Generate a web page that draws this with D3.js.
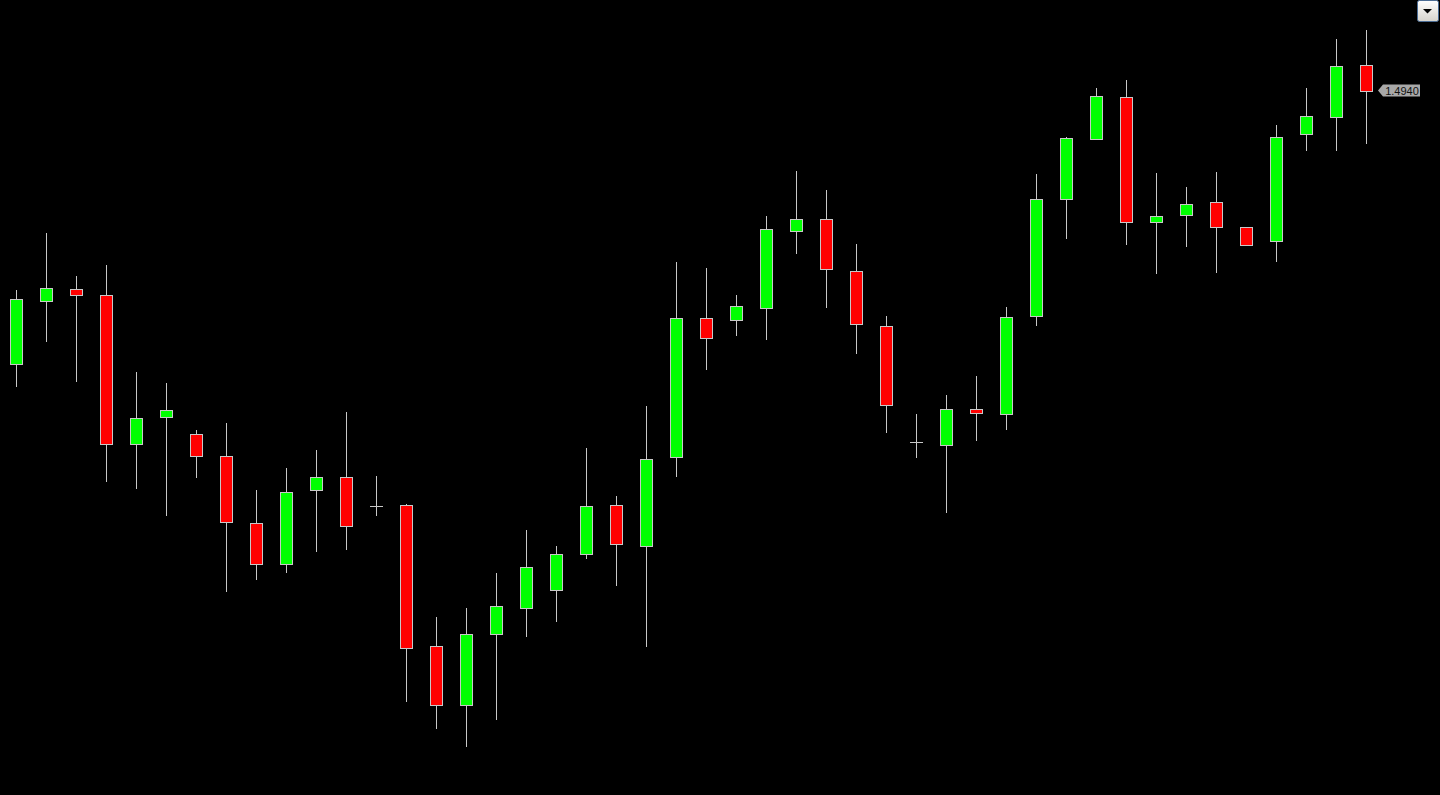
<!DOCTYPE html>
<html>
<head>
<meta charset="utf-8">
<script src="https://cdn.jsdelivr.net/npm/d3@7"></script>
<style>
  html, body { margin: 0; padding: 0; background: #000; overflow: hidden; }
  svg { display: block; }
</style>
</head>
<body>
<div id="chart"></div>
<script>
// daily bars, oldest first
var opens  = [1.4667, 1.4730, 1.4742, 1.4736, 1.4587, 1.4614, 1.4597, 1.4575, 1.4508, 1.4467,
              1.4541, 1.4554, 1.4525, 1.4526, 1.4385, 1.4326, 1.4397, 1.4423, 1.4441, 1.4477,
              1.4526, 1.4485, 1.4574, 1.4713, 1.4711, 1.4723, 1.4800, 1.4812, 1.4760, 1.4705,
              1.4589, 1.4586, 1.4622, 1.4617, 1.4715, 1.4832, 1.4892, 1.4934, 1.4809, 1.4816,
              1.4829, 1.4804, 1.4790, 1.4897, 1.4914, 1.4966];
var highs  = [1.4741, 1.4798, 1.4755, 1.4766, 1.4659, 1.4648, 1.4601, 1.4608, 1.4541, 1.4563,
              1.4581, 1.4619, 1.4555, 1.4527, 1.4414, 1.4423, 1.4458, 1.4501, 1.4485, 1.4583,
              1.4535, 1.4625, 1.4769, 1.4763, 1.4736, 1.4815, 1.4860, 1.4841, 1.4787, 1.4715,
              1.4617, 1.4636, 1.4655, 1.4724, 1.4857, 1.4894, 1.4943, 1.4951, 1.4858, 1.4844,
              1.4859, 1.4804, 1.4906, 1.4943, 1.4992, 1.5001];
var lows   = [1.4644, 1.4689, 1.4649, 1.4549, 1.4542, 1.4515, 1.4553, 1.4439, 1.4451, 1.4458,
              1.4479, 1.4481, 1.4515, 1.4329, 1.4302, 1.4284, 1.4311, 1.4394, 1.4409, 1.4472,
              1.4445, 1.4384, 1.4554, 1.4661, 1.4695, 1.4691, 1.4777, 1.4723, 1.4677, 1.4598,
              1.4573, 1.4518, 1.4590, 1.4601, 1.4705, 1.4792, 1.4892, 1.4786, 1.4757, 1.4784,
              1.4758, 1.4786, 1.4769, 1.4880, 1.4880, 1.4887];
var closes = [1.4732, 1.4743, 1.4736, 1.4587, 1.4613, 1.4621, 1.4575, 1.4509, 1.4467, 1.4539,
              1.4554, 1.4505, 1.4525, 1.4383, 1.4326, 1.4397, 1.4425, 1.4464, 1.4477, 1.4525,
              1.4487, 1.4572, 1.4713, 1.4693, 1.4725, 1.4802, 1.4812, 1.4762, 1.4707, 1.4626,
              1.4589, 1.4622, 1.4618, 1.4714, 1.4832, 1.4893, 1.4935, 1.4809, 1.4815, 1.4827,
              1.4804, 1.4786, 1.4894, 1.4915, 1.4965, 1.4940];

var width = 1440, height = 795;
var bodyW = 12;

var bars = opens.map(function(o, i) {
  return { i: i, open: o, high: highs[i], low: lows[i], close: closes[i] };
});

var x = d3.scaleLinear()
  .domain([0, bars.length - 1])
  .range([16, 1366]);

var y = d3.scaleLinear()
  .domain([1.5031, 1.4236])
  .range([0, height]);

var svg = d3.select("#chart")
  .append("svg")
  .attr("width", width)
  .attr("height", height);

svg.append("rect")
  .attr("width", width)
  .attr("height", height)
  .attr("fill", "#000");

var candle = svg.selectAll("g.candle")
  .data(bars)
  .enter().append("g")
  .attr("class", "candle");

// wicks
candle.append("line")
  .attr("x1", function(d) { return Math.round(x(d.i)) + 0.5; })
  .attr("x2", function(d) { return Math.round(x(d.i)) + 0.5; })
  .attr("y1", function(d) { return Math.round(y(d.high)); })
  .attr("y2", function(d) { return Math.round(y(d.low)); })
  .attr("stroke", "#c8c8c8")
  .attr("stroke-width", 1);

// bodies
candle.filter(function(d) { return d.open != d.close; })
  .append("rect")
  .attr("x", function(d) { return Math.round(x(d.i)) - bodyW / 2 + 0.5; })
  .attr("y", function(d) { return Math.round(y(Math.max(d.open, d.close))) + 0.5; })
  .attr("width", bodyW)
  .attr("height", function(d) {
    return Math.max(1, Math.round(y(Math.min(d.open, d.close))) - Math.round(y(Math.max(d.open, d.close))));
  })
  .attr("fill", function(d) { return d.close > d.open ? "#00ff00" : "#ff0000"; })
  .attr("stroke", "#c8c8c8")
  .attr("stroke-width", 1);

// dojis
candle.filter(function(d) { return d.open == d.close; })
  .append("line")
  .attr("x1", function(d) { return Math.round(x(d.i)) - bodyW / 2; })
  .attr("x2", function(d) { return Math.round(x(d.i)) + bodyW / 2 + 1; })
  .attr("y1", function(d) { return Math.round(y(d.close)) + 0.5; })
  .attr("y2", function(d) { return Math.round(y(d.close)) + 0.5; })
  .attr("stroke", "#c8c8c8")
  .attr("stroke-width", 1);

// last price tag
var last = closes[closes.length - 1];
var ly = Math.round(y(last)) - 0.5;
var tag = svg.append("g")
  .attr("transform", "translate(1378," + ly + ")");
tag.append("path")
  .attr("d", "M0,0 L5,-6 L42,-6 L42,6 L5,6 Z")
  .attr("fill", "#a8a8a8");
tag.append("text")
  .attr("x", 24)
  .attr("y", 4)
  .attr("text-anchor", "middle")
  .attr("font-family", "Liberation Sans, Arial, sans-serif")
  .attr("font-size", "11px")
  .attr("fill", "#111")
  .text(d3.format(".4f")(last));

// dropdown button top right
var grad = svg.append("defs").append("linearGradient")
  .attr("id", "btn")
  .attr("x1", 0).attr("y1", 0).attr("x2", 0).attr("y2", 1);
grad.append("stop").attr("offset", "0%").attr("stop-color", "#ffffff");
grad.append("stop").attr("offset", "100%").attr("stop-color", "#d6d3cc");

svg.append("rect")
  .attr("x", 1417.5)
  .attr("y", 0.5)
  .attr("width", 21)
  .attr("height", 21)
  .attr("rx", 2)
  .attr("fill", "url(#btn)")
  .attr("stroke", "#4b6c94");
svg.append("path")
  .attr("d", "M1423,9 L1432,9 L1427.5,13.5 Z")
  .attr("fill", "#000");
</script>
</body>
</html>
